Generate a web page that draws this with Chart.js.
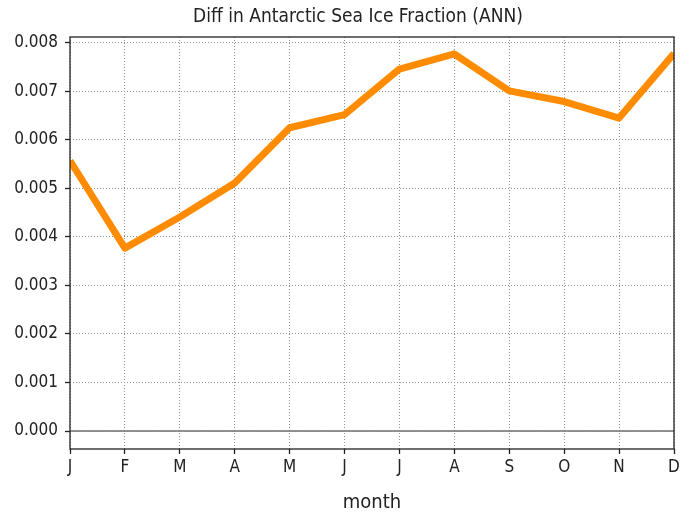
<!DOCTYPE html>
<html>
<head>
<meta charset="utf-8">
<script src="https://cdn.jsdelivr.net/npm/chart.js@4/dist/chart.umd.min.js"></script>
<style>
  html, body { margin: 0; padding: 0; background: #fff; }
  #wrap { width: 689px; height: 515px; }
</style>
</head>
<body>
<div id="wrap"><canvas id="c" width="689" height="515"></canvas></div>
<script>
// Monthly difference in Antarctic sea ice fraction
const months = ['J', 'F', 'M', 'A', 'M', 'J', 'J', 'A', 'S', 'O', 'N', 'D'];
const iceFracDiff = [0.00557, 0.00377, 0.00441, 0.00511, 0.00625, 0.00652,
                     0.00746, 0.00777, 0.00701, 0.00679, 0.00645, 0.00778];
const zeroLine = [0, 0, 0, 0, 0, 0, 0, 0, 0, 0, 0, 0];
const yTickValues = [0, 0.001, 0.002, 0.003, 0.004, 0.005, 0.006, 0.007, 0.008];
const titleText = 'Diff in Antarctic Sea Ice Fraction (ANN)';
const xAxisTitle = 'month';

const FONT = "'DejaVu Sans Condensed', 'DejaVu Sans', sans-serif";

// Frame around the plotting area plus the centred title
const framePlugin = {
  id: 'frame',
  afterDraw(chart) {
    const { ctx, chartArea: a } = chart;
    ctx.save();
    ctx.strokeStyle = '#222';
    ctx.lineWidth = 1.3;
    ctx.strokeRect(a.left, a.top, a.right - a.left, a.bottom - a.top);
    ctx.fillStyle = '#222';
    ctx.font = '19px ' + FONT;
    ctx.textAlign = 'center';
    ctx.textBaseline = 'middle';
    ctx.fillText(titleText, 358, 17);
    ctx.restore();
  }
};

new Chart(document.getElementById('c'), {
  type: 'line',
  data: {
    labels: months,
    datasets: [
      {
        data: zeroLine,
        borderColor: 'rgba(128,128,128,0.85)',
        borderWidth: 2,
        pointRadius: 0,
        clip: 0,
        order: 2
      },
      {
        data: iceFracDiff,
        borderColor: '#ff8c00',
        borderWidth: 7,
        borderJoinStyle: 'round',
        pointRadius: 0,
        tension: 0,
        clip: 0,
        order: 1
      }
    ]
  },
  plugins: [framePlugin],
  options: {
    responsive: false,
    animation: false,
    layout: { padding: { top: 37, right: 15, left: 0, bottom: 0 } },
    plugins: {
      legend: { display: false },
      title: { display: false },
      tooltip: { enabled: false }
    },
    scales: {
      x: {
        type: 'category',
        offset: false,
        grid: {
          color: '#909090',
          lineWidth: 1,
          drawTicks: true,
          tickLength: 5,
          tickColor: '#222',
          tickWidth: 1.3
        },
        border: { display: false, dash: [1, 2] },
        ticks: {
          color: '#222',
          font: { family: FONT, size: 17 },
          padding: 3,
          maxRotation: 0,
          autoSkip: false
        },
        title: {
          display: true,
          text: xAxisTitle,
          color: '#222',
          font: { family: FONT, size: 20 },
          padding: { top: 2, bottom: 0 }
        },
        afterFit(scale) { scale.height = 66; }
      },
      y: {
        min: -0.00037,
        max: 0.00812,
        grid: {
          color: '#909090',
          lineWidth: 1,
          drawTicks: true,
          tickLength: 5,
          tickColor: '#222',
          tickWidth: 1.3
        },
        border: { display: false, dash: [1, 2] },
        afterBuildTicks(scale) {
          scale.ticks = yTickValues.map(v => ({ value: v }));
        },
        ticks: {
          color: '#222',
          font: { family: FONT, size: 17 },
          padding: 7,
          callback: v => Number(v).toFixed(3)
        },
        afterFit(scale) { scale.width = 70; }
      }
    }
  }
});
</script>
</body>
</html>
